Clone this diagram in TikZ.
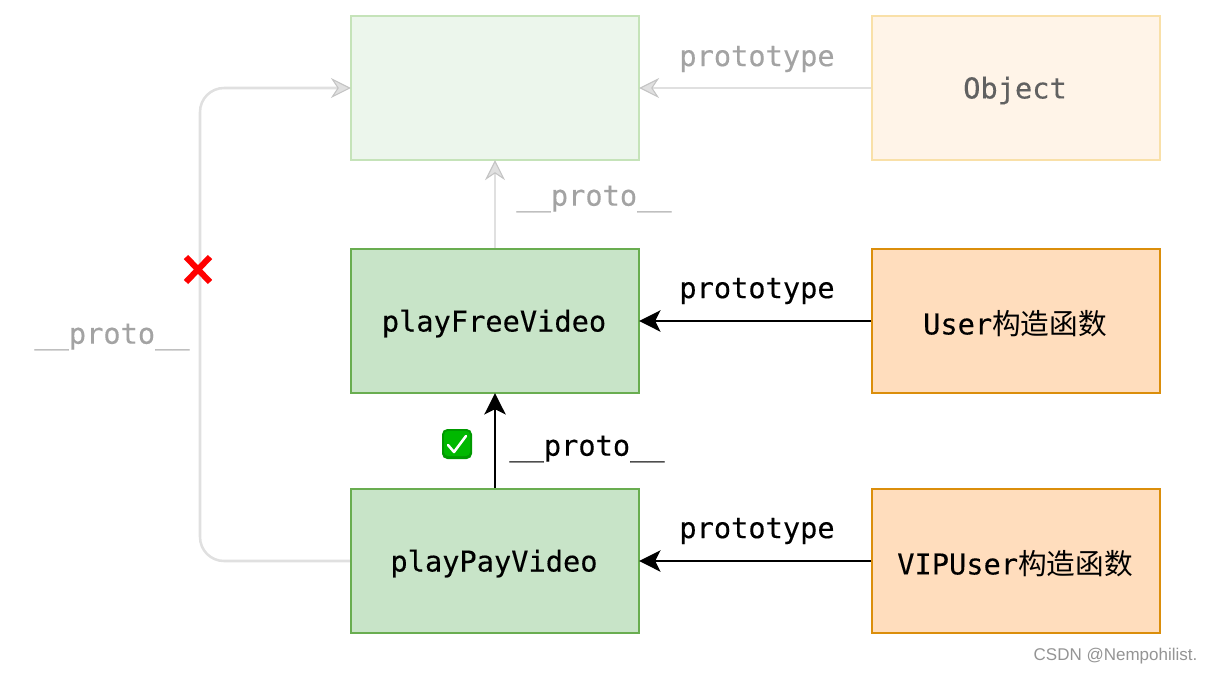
\documentclass[tikz,border=0pt]{standalone}
\usepackage{fontspec}
\setmainfont{Liberation Sans}
\newfontfamily\monof[FakeBold=0.25]{DejaVu Sans Mono}
\newfontfamily\cjkf{Noto Sans CJK SC}
\usetikzlibrary{arrows.meta}
\definecolor{gfill}{HTML}{C8E4C8}
\definecolor{gline}{HTML}{69AD50}
\definecolor{ofill}{HTML}{FFDDBD}
\definecolor{oline}{HTML}{DB8E0B}
\definecolor{gfillL}{HTML}{ECF6EC}
\definecolor{glineL}{HTML}{C5E3B9}
\definecolor{ofillL}{HTML}{FFF4E8}
\definecolor{olineL}{HTML}{F9E0A8}
\definecolor{edgeL}{HTML}{E0E0E0}
\definecolor{arrowL}{HTML}{C4C4C4}
\definecolor{txtL}{HTML}{A3A3A3}
\newcommand\lowered[1]{\raisebox{-1.9pt}[\height][\depth]{#1}}
\tikzset{
 box/.style={minimum width=216pt,minimum height=108pt,inner sep=0pt,line width=1.8pt,font=\fontsize{21.5}{24}\monof},
 greenbox/.style={box,draw=gline,fill=gfill},
 orangebox/.style={box,draw=oline,fill=ofill},
 greenlight/.style={box,draw=glineL,fill=gfillL},
 orangelight/.style={box,draw=olineL,fill=ofillL,text=black!62},
 lab/.style={inner sep=0pt,font=\fontsize{21.5}{24}\monof},
 lablight/.style={lab,text=txtL},
 strong/.style={draw=black,line width=1.9pt,shorten >=-0.8pt,-{Stealth[length=16pt,width=16pt,inset=4pt]}},
 faint/.style={draw=edgeL,line width=1.9pt,shorten >=-0.8pt,-{Stealth[length=15pt,width=15pt,inset=5pt,fill=edgeL,color=arrowL,line width=.8pt]}},
}
\begin{document}
\begin{tikzpicture}[x=0.75pt,y=-0.75pt]
\useasboundingbox (0,0) rectangle (1212,672);
\node[greenlight] (top) at (495,88) {};
\node[orangelight] (obj) at (1016,88) {\lowered{\kern-1.5pt Object}};
\node[greenbox] (free) at (495,321) {\lowered{\kern-1.5pt playFreeVideo}};
\node[orangebox] (user) at (1016,321) {\lowered{\kern-1.5pt User{\cjkf 构造函数}}};
\node[greenbox] (pay) at (495,561) {\lowered{\kern-1.5pt playPayVideo}};
\node[orangebox] (vip) at (1016,561) {\lowered{\kern-1.5pt VIPUser{\cjkf 构造函数}}};
\coordinate (bend) at (200,320);
\draw[faint,rounded corners=18pt] (pay.west) -| (bend) |- (top.west);
\draw[faint] (obj.west) -- (top.east);
\draw[faint] (free.north) -- (top.south);
\draw[strong] (user.west) -- (free.east);
\draw[strong] (vip.west) -- (pay.east);
\draw[strong] (pay.north) -- (free.south);
\node[lablight] (l1) at (757,59) {prototype};
\node[lablight] (l2) at (594,199) {\_\_proto\_\_};
\node[lablight] (l3) at (112,337) {\_\_proto\_\_};
\node[lab] (l4) at (757,291) {prototype};
\node[lab] (l5) at (587,449) {\_\_proto\_\_};
\node[lab] (l6) at (757,531) {prototype};
\node[inner sep=0pt,text=black!42,font=\fontsize{12.75}{15}\selectfont] (wm) at (1115.5,656) {CSDN @Nempohilist.};
% red cross
\draw[red,line width=4.5pt] (186,257) -- (210,282) (210,257) -- (186,282);
% green check emoji
\fill[green!60!black,rounded corners=4pt] (442,429) rectangle (472,459);
\fill[green!72!black,rounded corners=3pt] (444,431) rectangle (470,456);
\draw[white,line width=1.9pt,line cap=round,line join=round] (448,445) -- (454,452) -- (466,436);
\end{tikzpicture}
\end{document}
